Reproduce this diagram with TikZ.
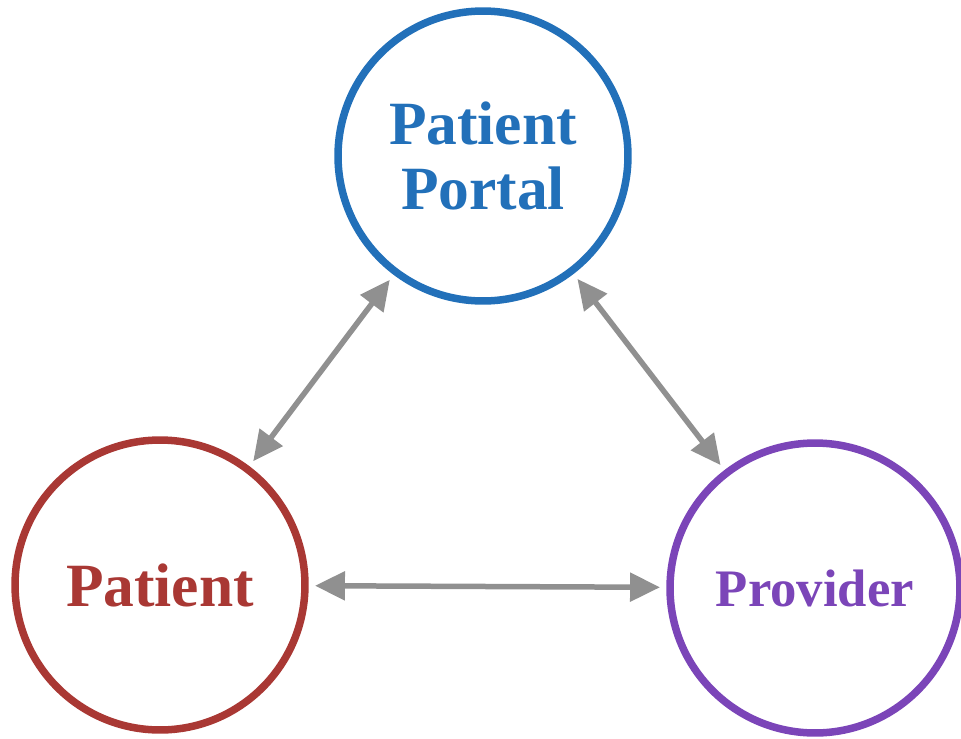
\documentclass[tikz,border=0pt]{standalone}
\usepackage{fontspec}
\setmainfont{Liberation Serif}
\usetikzlibrary{arrows.meta}
\definecolor{portalblue}{HTML}{2270B9}
\definecolor{patientred}{HTML}{A93834}
\definecolor{providerpurple}{HTML}{7B45B8}
\definecolor{linkgray}{HTML}{909090}

\begin{document}
\begin{tikzpicture}[x=0.02cm, y=-0.02cm]
    \tikzstyle{party} = [circle, draw, line width=0.15cm, minimum size=5.8cm, inner sep=0pt, outer sep=0.2cm,
                         align=center, font=\fontsize{35}{37}\selectfont\bfseries]
    \tikzstyle{link} = [{Triangle[length=0.6cm,width=0.56cm]}-{Triangle[length=0.6cm,width=0.56cm]},
                        line width=0.11cm, draw=linkgray]
    \useasboundingbox (0, 0) rectangle (961, 738);
    \node[party, draw=portalblue, text=portalblue] (portal) at (483, 156) {Patient\\Portal};
    \node[party, draw=patientred, text=patientred] (patient) at (160, 585) {Patient};
    \node[party, draw=providerpurple, text=providerpurple, font=\fontsize{30}{32}\selectfont\bfseries]
        (provider) at (815, 588) {Provider};
    % two-way links between the three parties
    \draw[link] (patient) -- (portal);
    \draw[link] (portal) -- (provider);
    \draw[link] (patient) -- (provider);
\end{tikzpicture}
\end{document}
